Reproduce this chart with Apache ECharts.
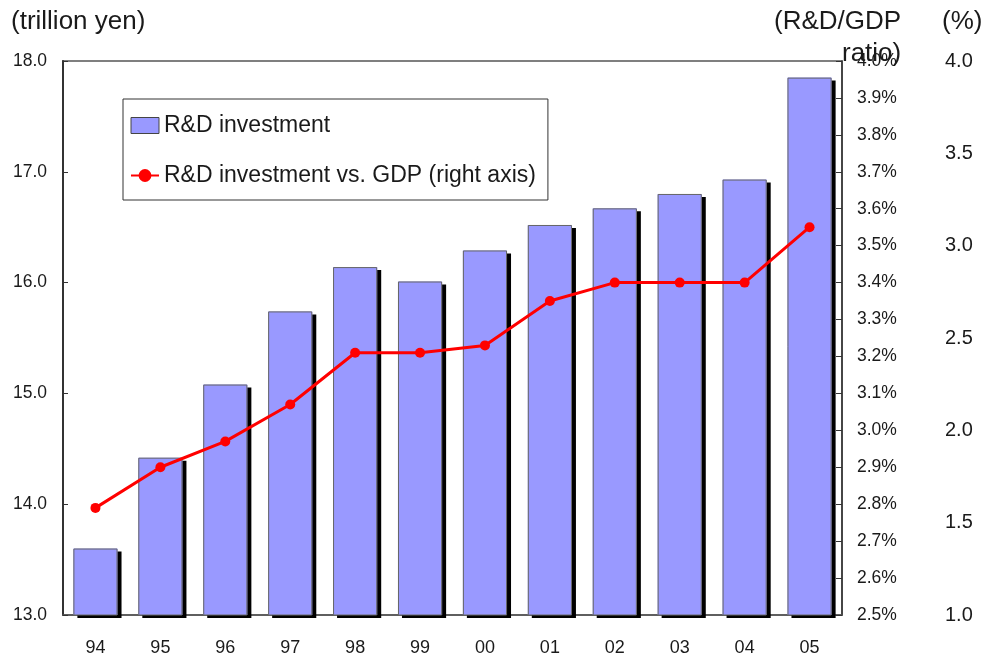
<!DOCTYPE html>
<html>
<head>
<meta charset="utf-8">
<script src="https://cdn.jsdelivr.net/npm/echarts@6/dist/echarts.min.js"></script>
<style>
  html, body { margin: 0; padding: 0; background: #fff; }
  #chart { width: 983px; height: 657px; }
</style>
</head>
<body>
<div id="chart"></div>
<script>
// fiscal years
const years = ['94', '95', '96', '97', '98', '99', '00', '01', '02', '03', '04', '05']
// R&D investment, trillion yen
const investment = [13.60, 14.42, 15.08, 15.74, 16.14, 16.01, 16.29, 16.52, 16.67, 16.80, 16.93, 17.85]
// R&D / GDP ratio, %
const ratio = [2.79, 2.90, 2.97, 3.07, 3.21, 3.21, 3.23, 3.35, 3.40, 3.40, 3.40, 3.55]

const font = '"Liberation Sans", Arial, sans-serif'
const txt = '#1a1a1a'

let myChart = echarts.init(document.getElementById('chart'))

let option = {
  animation: false,
  textStyle: { fontFamily: font },
  grid: {
    left: 63, right: 141, top: 61, bottom: 42,
    show: true, borderColor: '#555', borderWidth: 1.5
  },
  legend: {
    orient: 'vertical',
    left: 123, top: 99,
    padding: [15, 12, 13, 7],
    itemGap: 27,
    itemWidth: 28, itemHeight: 16,
    backgroundColor: '#fff',
    borderColor: '#333', borderWidth: 1,
    textStyle: { fontSize: 23, color: txt, fontFamily: font },
    data: [
      {
        name: 'R&D investment', icon: 'rect',
        itemStyle: { color: '#9999ff', borderColor: '#444', borderWidth: 1, shadowColor: 'transparent', shadowOffsetX: 0, shadowOffsetY: 0 }
      },
      { name: 'R&D investment vs. GDP (right axis)' }
    ]
  },
  xAxis: {
    type: 'category',
    data: years,
    axisLine: { lineStyle: { color: '#555', width: 1.5 } },
    axisTick: { show: false },
    axisLabel: { fontSize: 18, color: txt, margin: 24 }
  },
  yAxis: [
    {
      type: 'value', min: 13, max: 18, interval: 1,
      axisLine: { show: true, lineStyle: { color: '#333', width: 2 } },
      axisTick: { show: true, inside: true, length: 5, lineStyle: { color: '#333' } },
      splitLine: { show: false },
      axisLabel: { fontSize: 17.5, color: txt, margin: 16, formatter: v => v.toFixed(1) }
    },
    {
      type: 'value', position: 'right', min: 2.5, max: 4.0, interval: 0.1,
      axisLine: { show: true, lineStyle: { color: '#333', width: 1.5 } },
      axisTick: { show: true, inside: true, length: 6, lineStyle: { color: '#333' } },
      splitLine: { show: false },
      axisLabel: { fontSize: 17.5, color: txt, margin: 15, formatter: v => v.toFixed(1) + '%' }
    },
    {
      type: 'value', position: 'right', offset: 95, min: 1.0, max: 4.0, interval: 0.5,
      axisLine: { show: false },
      axisTick: { show: false },
      splitLine: { show: false },
      axisLabel: { fontSize: 20, color: txt, margin: 8, formatter: v => v.toFixed(1) }
    }
  ],
  graphic: [
    { type: 'text', left: 11, top: 9, style: { text: '(trillion yen)', fontSize: 26, fill: txt, fontFamily: font } },
    { type: 'text', left: 774, top: 9, style: { text: '(R&D/GDP', fontSize: 26, fill: txt, fontFamily: font } },
    { type: 'text', left: 842, top: 41, style: { text: 'ratio)', fontSize: 26, fill: txt, fontFamily: font } },
    { type: 'text', left: 942, top: 9, style: { text: '(%)', fontSize: 26, fill: txt, fontFamily: font } }
  ],
  series: [
    {
      name: 'R&D investment',
      type: 'bar',
      yAxisIndex: 0,
      barWidth: '68%',
      itemStyle: {
        color: '#9999ff',
        shadowColor: '#000',
        shadowBlur: 0,
        shadowOffsetX: 4,
        shadowOffsetY: 3
      },
      data: investment
    },
    {
      // thin gray outline on top of the shadowed bars
      name: 'outline',
      type: 'bar',
      yAxisIndex: 0,
      barWidth: '68%',
      barGap: '-100%',
      silent: true,
      itemStyle: { color: 'transparent', borderColor: '#666', borderWidth: 1 },
      data: investment
    },
    {
      name: 'R&D investment vs. GDP (right axis)',
      type: 'line',
      yAxisIndex: 1,
      symbol: 'circle',
      symbolSize: 10,
      lineStyle: { color: '#ff0000', width: 3 },
      itemStyle: { color: '#ff0000' },
      data: ratio
    }
  ]
}

myChart.setOption(option)
</script>
</body>
</html>
